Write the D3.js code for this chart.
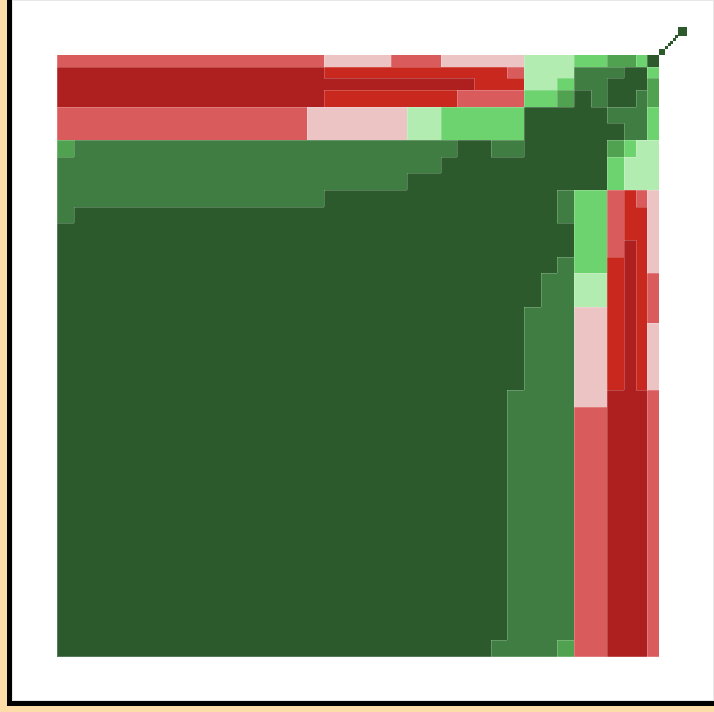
<!DOCTYPE html>
<html><head><meta charset="utf-8">
<script src="https://cdn.jsdelivr.net/npm/d3@7"></script>
<style>
html,body{margin:0;padding:0;width:714px;height:712px;overflow:hidden;background:#fddca8;}
#frame{position:absolute;left:7px;top:0;width:702px;height:701px;border-left:5px solid #000;border-bottom:5px solid #000;}
#panel{position:absolute;left:0;top:0;width:702px;height:701px;box-sizing:border-box;background:#fff;border:1px solid #e8e8e8;}
svg{position:absolute;left:0;top:0;}
</style></head><body>
<div id="frame"><div id="panel"></div></div>
<svg id="chart" width="714" height="712"></svg>
<script>
// ---- data ----
// level index -> colour (diverging: dark red ... dark green)
const levels = [0, 1, 2, 3, 4, 5, 6, 7, 8];
const levelColors = ["#ae2020", "#c9281f", "#da5b5b", "#ecc4c4", "#b2ecb0", "#6dd36e", "#50a150", "#3f7d42", "#2c5a2d"];

// relative widths of the 37 columns (left to right) and heights of the 37 rows (top to bottom)
const colWeights = [1,1,1,1,1,1,1,1,1,1, 1,1,1,1,1,1,1,1,1,1, 1,1,1,1,1,1,1,1,1,1, 1,1,1,1, 0.7,0.7,0.7];
const rowWeights = [0.7,0.7,0.7, 1,1,1,1,1,1,1,1,1,1, 1,1,1,1,1,1,1,1,1,1, 1,1,1,1,1,1,1,1,1,1, 1,1,1,1];

// each row as runs of [level, count]
const gridRuns = [
  [[2,16],[3,4],[2,3],[3,5],[4,3],[5,2],[6,2],[5,1],[8,1]],
  [[0,16],[1,11],[2,1],[4,3],[7,3],[8,2],[5,1]],
  [[0,25],[1,3],[4,2],[5,1],[7,2],[8,3],[6,1]],
  [[0,16],[1,8],[2,4],[5,2],[6,1],[8,1],[7,1],[8,2],[7,1],[6,1]],
  [[2,15],[3,6],[4,2],[5,5],[8,5],[7,3],[5,1]],
  [[2,15],[3,6],[4,2],[5,5],[8,6],[7,2],[5,1]],
  [[6,1],[7,23],[8,2],[7,2],[8,5],[6,1],[5,1],[4,2]],
  [[7,23],[8,10],[5,1],[4,3]],
  [[7,21],[8,12],[5,1],[4,3]],
  [[7,16],[8,14],[7,1],[5,2],[2,1],[1,1],[2,1],[3,1]],
  [[7,1],[8,29],[7,1],[5,2],[2,1],[1,2],[3,1]],
  [[8,31],[5,2],[2,1],[1,2],[3,1]],
  [[8,31],[5,2],[2,1],[0,1],[1,1],[3,1]],
  [[8,30],[7,1],[5,2],[1,1],[0,1],[1,1],[3,1]],
  [[8,29],[7,2],[4,2],[1,1],[0,1],[1,1],[2,1]],
  [[8,29],[7,2],[4,2],[1,1],[0,1],[1,1],[2,1]],
  [[8,28],[7,3],[3,2],[1,1],[0,1],[1,1],[2,1]],
  [[8,28],[7,3],[3,2],[1,1],[0,1],[1,1],[3,1]],
  [[8,28],[7,3],[3,2],[1,1],[0,1],[1,1],[3,1]],
  [[8,28],[7,3],[3,2],[1,1],[0,1],[1,1],[3,1]],
  [[8,28],[7,3],[3,2],[1,1],[0,1],[1,1],[3,1]],
  [[8,27],[7,4],[3,2],[0,3],[2,1]],
  [[8,27],[7,4],[2,2],[0,3],[2,1]],
  [[8,27],[7,4],[2,2],[0,3],[2,1]],
  [[8,27],[7,4],[2,2],[0,3],[2,1]],
  [[8,27],[7,4],[2,2],[0,3],[2,1]],
  [[8,27],[7,4],[2,2],[0,3],[2,1]],
  [[8,27],[7,4],[2,2],[0,3],[2,1]],
  [[8,27],[7,4],[2,2],[0,3],[2,1]],
  [[8,27],[7,4],[2,2],[0,3],[2,1]],
  [[8,27],[7,4],[2,2],[0,3],[2,1]],
  [[8,27],[7,4],[2,2],[0,3],[2,1]],
  [[8,27],[7,4],[2,2],[0,3],[2,1]],
  [[8,27],[7,4],[2,2],[0,3],[2,1]],
  [[8,27],[7,4],[2,2],[0,3],[2,1]],
  [[8,27],[7,4],[2,2],[0,3],[2,1]],
  [[8,26],[7,4],[6,1],[2,2],[0,3],[2,1]]
];

// trailing squares beyond the top-right cell: [x, y, size] in grid units (y negative = above the grid)
const tailSquares = [
  [36.10, -0.36, 0.36],
  [36.46, -0.54, 0.18],
  [36.61, -0.70, 0.18],
  [36.77, -0.86, 0.18],
  [36.93, -1.01, 0.18],
  [37.08, -1.17, 0.18],
  [37.24, -1.68, 0.54]
];
const tailLevel = 8;

// ---- chart ----
const svg = d3.select("#chart");
const totalW = d3.sum(colWeights), totalH = d3.sum(rowWeights);
const x = d3.scaleLinear().domain([0, totalW]).range([57, 659]);
const y = d3.scaleLinear().domain([0, totalH]).range([55, 657]);
const color = d3.scaleOrdinal().domain(levels).range(levelColors);

const xEdges = [0, ...d3.cumsum(colWeights)].map(v => Math.round(x(v)));
const yEdges = [0, ...d3.cumsum(rowWeights)].map(v => Math.round(y(v)));

const grid = gridRuns.map(runs => runs.flatMap(([lv, n]) => d3.range(n).map(() => lv)));
const cells = [];
grid.forEach((row, r) => row.forEach((lv, c) => cells.push({r, c, lv})));

svg.append("g").attr("shape-rendering", "crispEdges")
  .selectAll("rect").data(cells).join("rect")
  .attr("x", d => xEdges[d.c])
  .attr("y", d => yEdges[d.r])
  .attr("width", d => xEdges[d.c + 1] - xEdges[d.c])
  .attr("height", d => yEdges[d.r + 1] - yEdges[d.r])
  .attr("fill", d => color(d.lv));

// faint region outlines between differing levels
const path = d3.path();
const nR = grid.length, nC = grid[0].length;
for (let r = 0; r < nR; r++) {
  for (let c = 0; c < nC; c++) {
    if (c + 1 < nC && grid[r][c] !== grid[r][c + 1]) {
      path.moveTo(xEdges[c + 1] + 0.5, yEdges[r]);
      path.lineTo(xEdges[c + 1] + 0.5, yEdges[r + 1]);
    }
    if (r + 1 < nR && grid[r][c] !== grid[r + 1][c]) {
      path.moveTo(xEdges[c], yEdges[r + 1] + 0.5);
      path.lineTo(xEdges[c + 1], yEdges[r + 1] + 0.5);
    }
  }
}
path.moveTo(xEdges[0] + 0.5, yEdges[0]);
path.lineTo(xEdges[0] + 0.5, yEdges[nR] - 0.5);
path.lineTo(xEdges[nC], yEdges[nR] - 0.5);
svg.append("path").attr("d", path.toString())
  .attr("fill", "none").attr("stroke", "#fff").attr("stroke-opacity", 0.2).attr("stroke-width", 1);

// tail squares
svg.append("g").attr("shape-rendering", "crispEdges")
  .selectAll("rect").data(tailSquares).join("rect")
  .attr("x", d => Math.round(x(d[0])))
  .attr("y", d => Math.round(y(d[1])))
  .attr("width", d => Math.max(2, Math.round(x(d[0] + d[2]) - x(d[0]))))
  .attr("height", d => Math.max(2, Math.round(x(d[0] + d[2]) - x(d[0]))))
  .attr("fill", color(tailLevel));
</script>
</body></html>
